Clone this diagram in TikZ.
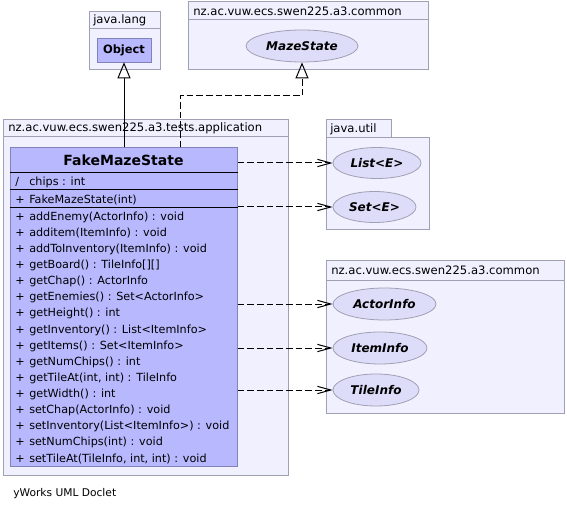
\documentclass[tikz,border=0pt]{standalone}
\usepackage{fontspec}
\setmainfont{DejaVu Sans}
\usepackage{xcolor}
\usetikzlibrary{arrows.meta,shapes.geometric,fit}

\definecolor{pkgfill}{RGB}{240,240,255}
\definecolor{pkgline}{RGB}{160,160,180}
\definecolor{classfill}{RGB}{184,184,255}
\definecolor{classline}{RGB}{130,130,185}
\definecolor{ellfill}{RGB}{221,221,250}
\definecolor{ellline}{RGB}{160,160,180}

\newcommand{\vis}[1]{\makebox[10.5pt][l]{#1}}

\tikzset{
  pkg/.style={draw=pkgline, fill=pkgfill, line width=0.75pt},
  pkglabel/.style={anchor=west, inner sep=0pt, font=\fontsize{8.7}{10}\selectfont},
  iface/.style={ellipse, draw=ellline, fill=ellfill, inner sep=0pt, line width=0.6pt,
    font=\fontsize{9}{10}\selectfont\bfseries\itshape},
  member/.style={anchor=west, inner sep=0pt, font=\fontsize{8.4}{9}\selectfont},
  dep/.style={line width=0.75pt, dash pattern=on 5pt off 2.25pt,
    -{Straight Barb[length=10pt, width=5.5pt, line width=0.75pt]}},
  gen/.style={line width=0.75pt, -{Triangle[open, length=12pt, width=9.75pt, line width=0.75pt]}},
  real/.style={gen, dash pattern=on 5pt off 2.25pt}
}

\begin{document}
\begin{tikzpicture}[x=0.75pt, y=-0.75pt]
    \useasboundingbox[fill=white] (0,0) rectangle (567,513);
    % packages
    \draw[pkg] (89,12) rectangle (160,70);
    \draw[pkgline, line width=0.75pt] (89,29) -- (160,29);
    \node[pkglabel] (langlbl) at (93,20.5) {java.lang};
    \draw[pkg] (188,2) rectangle (428,70);
    \draw[pkgline, line width=0.75pt] (188,20) -- (428,20);
    \node[pkglabel] (commonlbl) at (193,11) {nz.ac.vuw.ecs.swen225.a3.common};
    \draw[pkg] (3,120) rectangle (288,475);
    \draw[pkgline, line width=0.75pt] (3,137) -- (288,137);
    \node[pkglabel] (testslbl) at (8,128.5) {nz.ac.vuw.ecs.swen225.a3.tests.application};
    \draw[pkg] (326,120) rectangle (391,138);
    \draw[pkg] (326,138) rectangle (429,230);
    \node[pkglabel] (utillbl) at (330,129) {java.util};
    \draw[pkg] (326,260) rectangle (564,413);
    \draw[pkgline, line width=0.75pt] (326,280) -- (564,280);
    \node[pkglabel] (commonlbltwo) at (331,270) {nz.ac.vuw.ecs.swen225.a3.common};

    % classes and interfaces
    \node[draw=classline, fill=classfill, minimum width=40.5pt, minimum height=18pt,
      inner sep=0pt, font=\fontsize{8.6}{10}\selectfont\bfseries] (obj) at (124,50) {Object};
    \node[iface, minimum width=84pt, minimum height=24pt] (maze) at (302,46) {MazeState};
    \node[iface, minimum width=66pt, minimum height=23.25pt] (list) at (377,163) {List<E>};
    \node[iface, minimum width=62.25pt, minimum height=23.25pt] (set) at (374.5,207) {Set<E>};
    \node[iface, minimum width=77.25pt, minimum height=24pt] (actor) at (384.5,304) {ActorInfo};
    \node[iface, minimum width=70.5pt, minimum height=24pt] (item) at (380,348) {ItemInfo};
    \node[iface, minimum width=64.5pt, minimum height=24pt] (tile) at (376,390) {TileInfo};

    \node[draw=classline, fill=classfill, line width=0.75pt, inner sep=0pt,
      fit={(10,148) (237,466)}] (fake) {};
    \node[font=\fontsize{10.5}{12}\selectfont\bfseries] (fakename) at (123.5,160.5) {FakeMazeState};
    \draw[line width=0.75pt] (fake.west |- 0,173) -- (fake.east |- 0,173);
    \draw[line width=0.75pt] (fake.west |- 0,190) -- (fake.east |- 0,190);
    \draw[line width=0.75pt] (fake.west |- 0,208) -- (fake.east |- 0,208);
    \node[member] (chips) at (15,182) {\vis{/}chips : int};
    \node[member] (ctor) at (15,199.5) {\vis{+}FakeMazeState(int)};
    \foreach \m [count=\i from 0] in {{addEnemy(ActorInfo) : void}, {additem(ItemInfo) : void},
      {addToInventory(ItemInfo) : void}, {getBoard() : TileInfo[][]}, {getChap() : ActorInfo},
      {getEnemies() : Set<ActorInfo>}, {getHeight() : int}, {getInventory() : List<ItemInfo>},
      {getItems() : Set<ItemInfo>}, {getNumChips() : int}, {getTileAt(int, int) : TileInfo},
      {getWidth() : int}, {setChap(ActorInfo) : void}, {setInventory(List<ItemInfo>) : void},
      {setNumChips(int) : void}, {setTileAt(TileInfo, int, int) : void}}
      \node[member] (meth\i) at (15,217+16.13*\i) {\vis{+}\m};

    % connectors
    \draw[gen] (fake.north -| obj) -- (obj);
    \coordinate (bend) at (180,96);
    \draw[real] (fake.north -| bend) -- (bend) -| (maze);
    \foreach \t in {list, set, actor, item, tile}
      \draw[dep] (fake.east |- \t) -- (\t);

    \node[anchor=west, inner sep=0pt, font=\fontsize{8}{9}\selectfont] (credit) at (13,494) {yWorks UML Doclet};
\end{tikzpicture}
\end{document}
